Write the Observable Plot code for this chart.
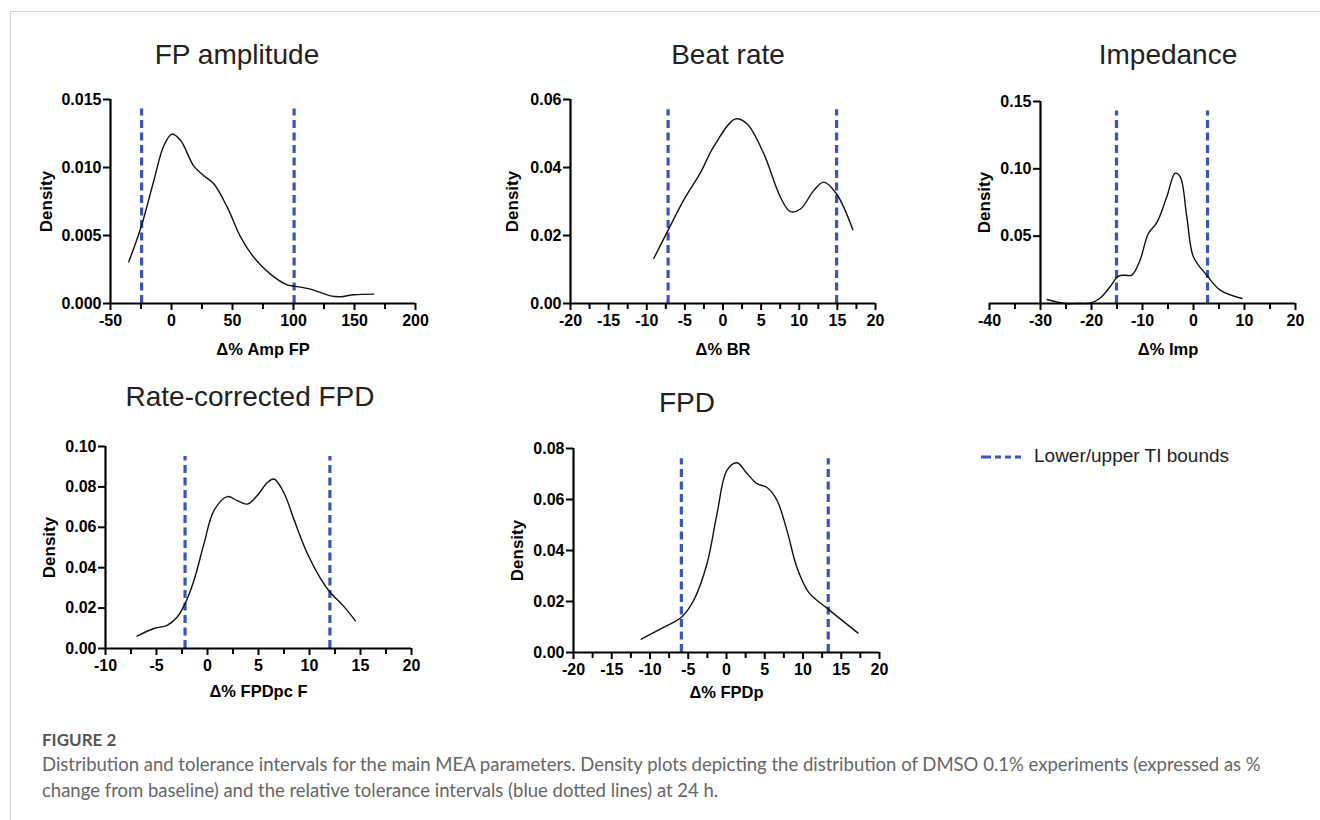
<!DOCTYPE html>
<html><head><meta charset="utf-8">
<script src="https://cdn.jsdelivr.net/npm/d3@7"></script>
<script src="https://cdn.jsdelivr.net/npm/@observablehq/plot@0.6"></script>
<style>
body{margin:0;background:#fff;}
#root{position:relative;width:1320px;height:820px;overflow:hidden;background:#fff;}
.bt{position:absolute;left:10px;top:11px;width:1310px;height:1px;background:#d2d2d2;}
.bl{position:absolute;left:10px;top:11px;width:1px;height:809px;background:#d2d2d2;}
.title{position:absolute;font-family:'Liberation Sans',Arial,sans-serif;font-size:28px;line-height:28px;color:#222;white-space:nowrap;transform:translateX(-50%);}
.panel{position:absolute;}
.legend{position:absolute;left:981px;top:444px;display:flex;align-items:center;font-family:'Liberation Sans',Arial,sans-serif;font-size:19px;color:#222;}
.caption{position:absolute;left:42px;top:729px;font-family:Lato,'Open Sans',sans-serif;color:#666;white-space:nowrap;}
.caption .fig{font-size:17px;font-weight:700;color:#555;line-height:22px;}
.caption .txt{font-size:18.5px;line-height:26px;}
</style></head><body><div id="root"><div class="bt"></div><div class="bl"></div></div>
<script>
// ---------- data ----------
const titles = ["FP amplitude", "Beat rate", "Impedance", "Rate-corrected FPD", "FPD"];
const xLabels = ["Δ% Amp FP", "Δ% BR", "Δ% Imp", "Δ% FPDpc F", "Δ% FPDp"];

const ampX = [-35, -24.6, -14.5, -6.3, 0.5, 7.4, 18.3, 26.5, 34.7, 45.6, 56.6, 67.5, 81.1, 94.8, 100.3, 113.9, 130.3, 138.5, 149.5, 165.8];
const ampDensity = [0.00307, 0.00572, 0.00903, 0.0116, 0.01246, 0.0120, 0.0101, 0.0094, 0.0088, 0.0071, 0.0049, 0.00339, 0.00216, 0.00137, 0.00128, 0.00106, 0.00056, 0.0005, 0.00064, 0.00069];
const ampBounds = [-24.5, 100.5];

const brX = [-9.07, -7.19, -5.14, -2.95, -1.2, 1.64, 3.17, 5.36, 7.54, 8.85, 10.16, 11.9, 13.2, 14.9, 17.03];
const brDensity = [0.0133, 0.0216, 0.0305, 0.0385, 0.0462, 0.0543, 0.0528, 0.044, 0.0312, 0.027, 0.0278, 0.0332, 0.0357, 0.0322, 0.0217];
const brBounds = [-7.2, 14.9];

const impX = [-28.7, -25.2, -22.7, -20.3, -18.4, -16.4, -14.75, -13.4, -12.1, -10.5, -8.85, -7.2, -5.25, -3.6, -2.6, -1.3, 0, 2.6, 5.25, 9.5];
const impDensity = [0.003, 0.0, 0.0, 0.0003, 0.0037, 0.0123, 0.0202, 0.021, 0.021, 0.032, 0.052, 0.060, 0.079, 0.0967, 0.094, 0.064, 0.0345, 0.021, 0.0099, 0.0037];
const impBounds = [-15.1, 2.75];

const rcX = [-6.9, -5.26, -3.95, -2.97, -2.2, -1.33, -0.35, 0.63, 1.94, 2.92, 3.9, 4.88, 5.87, 6.52, 7.5, 8.48, 9.8, 11.1, 12.0, 13.4, 14.5];
const rcDensity = [0.0061, 0.0099, 0.0115, 0.0156, 0.0222, 0.0337, 0.0518, 0.0683, 0.0752, 0.0732, 0.0715, 0.0757, 0.0822, 0.0839, 0.077, 0.0638, 0.0469, 0.0345, 0.028, 0.0206, 0.0137];
const rcBounds = [-2.2, 12.0];

const fpdX = [-11.15, -8.66, -5.9, -4.3, -2.55, -1.24, 0.07, 1.37, 2.68, 4.0, 5.3, 6.6, 7.9, 9.2, 10.75, 13.3, 17.2];
const fpdDensity = [0.0052, 0.0092, 0.0138, 0.0204, 0.0348, 0.0544, 0.0715, 0.0744, 0.0702, 0.0662, 0.0647, 0.0597, 0.0479, 0.0334, 0.0236, 0.0170, 0.0076];
const fpdBounds = [-5.9, 13.3];

// tick labels
const ampXTicks = [-50, 0, 50, 100, 150, 200];
const ampXMinor = [-25, 25, 75, 125, 175];
const ampYTicks = [0, 0.005, 0.010, 0.015];
const brXTicks = [-20, -15, -10, -5, 0, 5, 10, 15, 20];
const brXMinor = [-17.5, -12.5, -7.5, -2.5, 2.5, 7.5, 12.5, 17.5];
const brYTicks = [0, 0.02, 0.04, 0.06];
const impXTicks = [-40, -30, -20, -10, 0, 10, 20];
const impXMinor = [-35, -25, -15, -5, 5, 15];
const impYTicks = [0.05, 0.10, 0.15];
const rcXTicks = [-10, -5, 0, 5, 10, 15, 20];
const rcXMinor = [-7.5, -2.5, 2.5, 7.5, 12.5, 17.5];
const rcYTicks = [0, 0.02, 0.04, 0.06, 0.08, 0.10];
const fpdXTicks = [-20, -15, -10, -5, 0, 5, 10, 15, 20];
const fpdXMinor = [-17.5, -12.5, -7.5, -2.5, 2.5, 7.5, 12.5, 17.5];
const fpdYTicks = [0, 0.02, 0.04, 0.06, 0.08];

const legendLabel = "Lower/upper TI bounds";
const figLabel = "FIGURE 2";
const captionLines = [
  "Distribution and tolerance intervals for the main MEA parameters. Density plots depicting the distribution of DMSO 0.1% experiments (expressed as %",
  "change from baseline) and the relative tolerance intervals (blue dotted lines) at 24 h."
];

// ---------- drawing ----------
const BLUE = "#3c56b5";
const root = document.getElementById("root");

function panel(o) {
  const data = o.xs.map((x, i) => ({x, y: o.ys[i]}));
  const svg = Plot.plot({
    width: o.width, height: o.height,
    marginLeft: o.mL, marginRight: o.mR, marginTop: o.mT, marginBottom: o.mB,
    x: {domain: o.xDomain, label: null},
    y: {domain: o.yDomain, label: null},
    style: {fontFamily: "'Liberation Sans', Arial, sans-serif", fontSize: "16px", fontWeight: "bold", color: "#000", background: "transparent", overflow: "visible"},
    marks: [
      Plot.ruleX(o.bounds, {y1: 0, y2: o.boundTop, stroke: BLUE, strokeWidth: 3.2, strokeDasharray: "8,4.5"}),
      Plot.line(data, {x: "x", y: "y", curve: "catmull-rom", stroke: "#111", strokeWidth: 1.4}),
      Plot.ruleY([0], {x1: o.xAxisFrom, x2: o.xDomain[1], stroke: "#000", strokeWidth: 2.2}),
      Plot.ruleX([o.xDomain[0]], {y1: 0, y2: o.yDomain[1], stroke: "#000", strokeWidth: 2.2}),
      Plot.axisX({ticks: o.xTicks, tickSize: 7, tickPadding: 4, strokeWidth: 2, fontSize: 16, tickFormat: d => String(d), label: null}),
      Plot.axisX({ticks: o.xMinor, tickSize: 6, strokeWidth: 2, tickFormat: () => "", label: null}),
      Plot.axisY({ticks: o.yTicks, tickSize: 7, tickPadding: 2, strokeWidth: 2, fontSize: 16, tickFormat: d3.format(o.yFmt), label: null}),
      Plot.text([o.xLabel], {text: d => d, frameAnchor: "bottom", dy: o.xLabelDy, lineAnchor: "middle", fontSize: 16.5, fontWeight: "bold"}),
      Plot.text(["Density"], {text: d => d, frameAnchor: "left", rotate: -90, dx: o.densityDx, textAnchor: "middle", lineAnchor: "middle", fontSize: 17, fontWeight: "bold"})
    ]
  });
  svg.classList.add("panel");
  svg.style.left = o.left + "px";
  svg.style.top = o.top + "px";
  svg.style.position = "absolute";
  root.appendChild(svg);

  const t = document.createElement("div");
  t.className = "title";
  t.textContent = o.title;
  t.style.left = o.titleX + "px";
  t.style.top = o.titleTop + "px";
  root.appendChild(t);
}

panel({left: 20, top: 80, width: 420, height: 290, mL: 90, mR: 25, mT: 19, mB: 67,
  xDomain: [-50, 200], yDomain: [0, 0.015], xAxisFrom: -50, xs: ampX, ys: ampDensity, bounds: ampBounds, boundTop: 0.0143,
  xTicks: ampXTicks, xMinor: ampXMinor, yTicks: ampYTicks, yFmt: ".3f",
  xLabel: xLabels[0], xLabelDy: 46, densityDx: -64, title: titles[0], titleX: 237, titleTop: 41});

panel({left: 480, top: 80, width: 420, height: 290, mL: 90, mR: 25, mT: 19, mB: 67,
  xDomain: [-20, 20], yDomain: [0, 0.06], xAxisFrom: -20, xs: brX, ys: brDensity, bounds: brBounds, boundTop: 0.057,
  xTicks: brXTicks, xMinor: brXMinor, yTicks: brYTicks, yFmt: ".2f",
  xLabel: xLabels[1], xLabelDy: 46, densityDx: -58, title: titles[1], titleX: 728, titleTop: 41});

panel({left: 940, top: 80, width: 380, height: 290, mL: 100, mR: 25, mT: 21, mB: 67,
  xDomain: [-30, 20], yDomain: [0, 0.15], xAxisFrom: -40, xs: impX, ys: impDensity, bounds: impBounds, boundTop: 0.143,
  xTicks: impXTicks, xMinor: impXMinor, yTicks: impYTicks, yFmt: ".2f",
  xLabel: xLabels[2], xLabelDy: 46, densityDx: -56, title: titles[2], titleX: 1168, titleTop: 41});

panel({left: 20, top: 425, width: 420, height: 290, mL: 85, mR: 29, mT: 21, mB: 67,
  xDomain: [-10, 20], yDomain: [0, 0.10], xAxisFrom: -10, xs: rcX, ys: rcDensity, bounds: rcBounds, boundTop: 0.095,
  xTicks: rcXTicks, xMinor: rcXMinor, yTicks: rcYTicks, yFmt: ".2f",
  xLabel: xLabels[3], xLabelDy: 43, densityDx: -56, title: titles[3], titleX: 250, titleTop: 383});

panel({left: 480, top: 425, width: 420, height: 290, mL: 93, mR: 21, mT: 23, mB: 63,
  xDomain: [-20, 20], yDomain: [0, 0.08], xAxisFrom: -20, xs: fpdX, ys: fpdDensity, bounds: fpdBounds, boundTop: 0.076,
  xTicks: fpdXTicks, xMinor: fpdXMinor, yTicks: fpdYTicks, yFmt: ".2f",
  xLabel: xLabels[4], xLabelDy: 40, densityDx: -56, title: titles[4], titleX: 687, titleTop: 389});

// legend
const lg = document.createElement("div");
lg.className = "legend";
lg.innerHTML = `<svg width="40" height="24" style="margin-right:13px"><line x1="0" x2="40" y1="13" y2="13" stroke="${BLUE}" stroke-width="3.2" stroke-dasharray="10,4,6,4,6,4,6"/></svg><span>${legendLabel}</span>`;
root.appendChild(lg);

// caption
const cap = document.createElement("div");
cap.className = "caption";
cap.innerHTML = `<div class="fig">${figLabel}</div>` + captionLines.map(l => `<div class="txt">${l}</div>`).join("");
root.appendChild(cap);
</script>
</body></html>
